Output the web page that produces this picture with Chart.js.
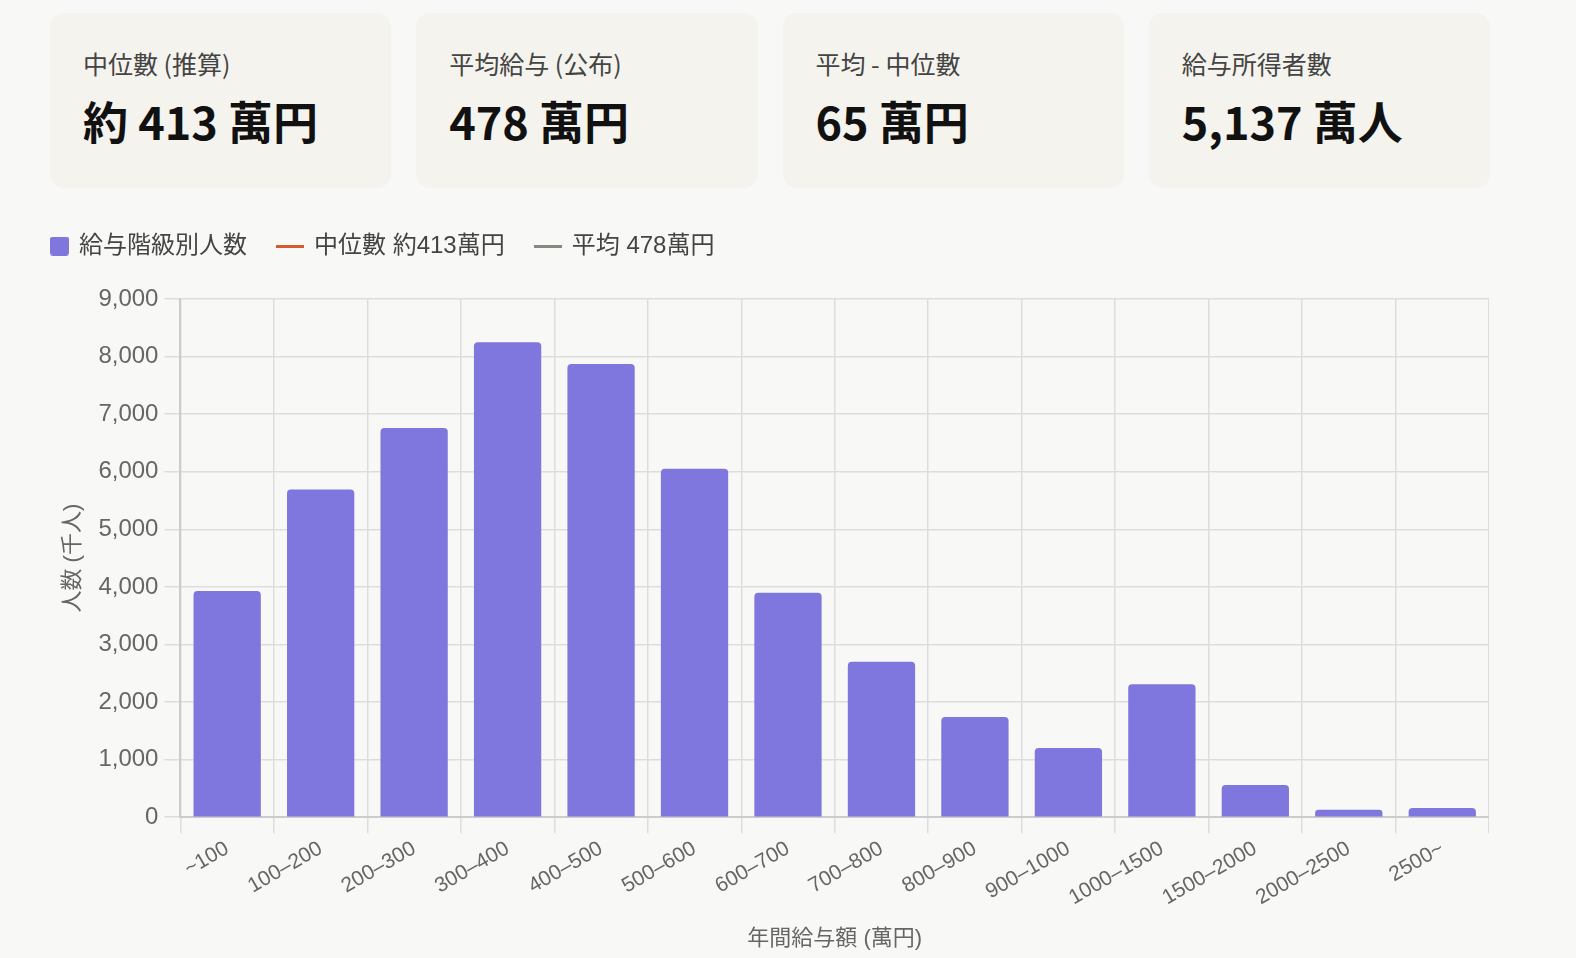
<!DOCTYPE html>
<html lang="ja">
<head>
<meta charset="utf-8">
<script src="https://cdn.jsdelivr.net/npm/chart.js@4.4.1/dist/chart.umd.min.js"></script>
<style>
  html, body { margin: 0; padding: 0; background: #f8f8f6; width: 1576px; height: 958px; overflow: hidden; }
  .cards { position: absolute; left: 50px; top: 13px; width: 1440px; display: flex; gap: 25px; }
  .card { flex: 1; height: 175px; background: #f4f3ed; border-radius: 14px; box-sizing: border-box; padding: 33px 0 0 33px;
          font-family: "Noto Sans CJK JP", "Noto Sans", sans-serif; }
  .card .label { font-size: 25px; color: #444; line-height: 34px; }
  .card .value { font-size: 45px; font-weight: 700; color: #111; line-height: 60px; margin-top: 11px; }
  .chartbox { position: absolute; left: 12px; top: 203px; width: 1477px; height: 753px; }
</style>
</head>
<body>
<div class="cards">
  <div class="card"><div class="label">中位數 (推算)</div><div class="value">約 413 萬円</div></div>
  <div class="card"><div class="label">平均給与 (公布)</div><div class="value">478 萬円</div></div>
  <div class="card"><div class="label">平均 - 中位數</div><div class="value">65 萬円</div></div>
  <div class="card"><div class="label">給与所得者數</div><div class="value">5,137 萬人</div></div>
</div>
<div class="chartbox"><canvas id="c"></canvas></div>
<script>
const categories = ['~100','100–200','200–300','300–400','400–500','500–600','600–700','700–800','800–900','900–1000','1000–1500','1500–2000','2000–2500','2500~'];
const counts = [3930, 5690, 6760, 8250, 7870, 6050, 3900, 2700, 1740, 1200, 2310, 560, 130, 160];
const medianLine = [];
const meanLine = [];
const yTicks = [0, 1000, 2000, 3000, 4000, 5000, 6000, 7000, 8000, 9000];

const BAR = '#7f77dd', MED = '#d85a30', AVG = '#888780';

// legend markers (28px wide canvases; the square sits at the right so it lines up with the text)
function marker(w, h, color, x0, bw, r) {
  const c = document.createElement('canvas');
  c.width = w; c.height = h;
  const x = c.getContext('2d');
  x.fillStyle = color;
  x.beginPath();
  if (x.roundRect) x.roundRect(x0, 0, bw, h, r); else x.rect(x0, 0, bw, h);
  x.fill();
  return c;
}

const FONT = "'Helvetica Neue', Helvetica, Arial, 'Liberation Sans', 'Noto Sans CJK JP', sans-serif";
Chart.defaults.font.family = FONT;
Chart.defaults.color = '#666';

const legendGap = {
  id: 'legendGap',
  beforeInit(chart) {
    const lg = chart.legend;
    if (!lg) return;
    const fit = lg.fit;
    lg.fit = function () { fit.call(lg); lg.height += 31; };
  }
};

new Chart(document.getElementById('c'), {
  type: 'bar',
  data: {
    labels: categories,
    datasets: [
      { label: '給与階級別人数', data: counts, backgroundColor: BAR, borderRadius: 4, borderSkipped: 'bottom',
        pointStyle: marker(28, 19, BAR, 9, 19, 3) },
      { type: 'line', label: '中位數 約413萬円', data: medianLine, borderColor: MED, backgroundColor: MED,
        borderWidth: 3, pointRadius: 0, pointStyle: marker(28, 3, MED, 0, 28, 0) },
      { type: 'line', label: '平均 478萬円', data: meanLine, borderColor: AVG, backgroundColor: AVG,
        borderWidth: 3, pointRadius: 0, pointStyle: marker(28, 3, AVG, 0, 28, 0) }
    ]
  },
  plugins: [legendGap],
  options: {
    responsive: true,
    maintainAspectRatio: false,
    animation: false,
    layout: { padding: 0 },
    plugins: {
      tooltip: { enabled: false },
      legend: {
        position: 'top',
        align: 'start',
        labels: {
          usePointStyle: true,
          pointStyleWidth: 24,
          boxHeight: 20,
          padding: 31,
          color: '#444',
          font: { size: 24, family: FONT },
          sort: (a, b) => a.datasetIndex - b.datasetIndex
        }
      }
    },
    scales: {
      x: {
        grid: { color: '#dddddd', lineWidth: 1.5, tickLength: 16 },
        border: { color: '#cccccc', width: 2 },
        ticks: { color: '#666', font: { size: 21 }, maxRotation: 30, minRotation: 30, autoSkip: false, padding: 3 },
        title: { display: true, text: '年間給与額 (萬円)', color: '#666', font: { size: 22 }, padding: { top: 12 } }
      },
      y: {
        min: 0, max: 9000,
        afterBuildTicks: (s) => { s.ticks = yTicks.map(v => ({ value: v })); },
        grid: { color: '#dddddd', lineWidth: 1.5, tickLength: 16 },
        border: { color: '#cccccc', width: 2 },
        ticks: { color: '#666', font: { size: 24 }, padding: 6,
                 callback: (v) => Number(v).toLocaleString('en-US') },
        title: { display: true, text: '人数 (千人)', color: '#666', font: { size: 22 }, padding: { top: 48, bottom: 6 } }
      }
    }
  }
});
</script>
</body>
</html>
